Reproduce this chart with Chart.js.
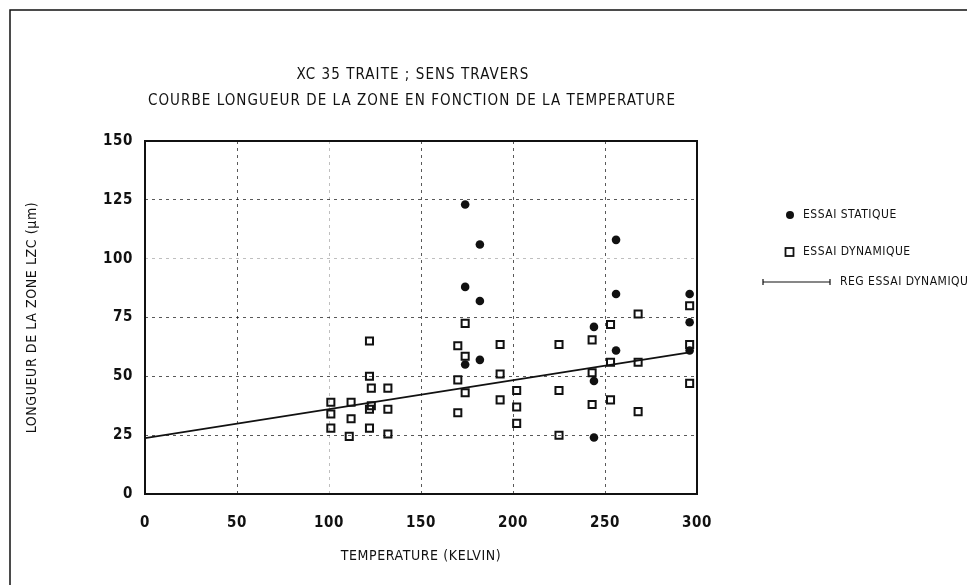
<!DOCTYPE html>
<html>
<head>
<meta charset="utf-8">
<script src="https://cdn.jsdelivr.net/npm/chart.js@4.4.1/dist/chart.umd.min.js"></script>
<style>
	html, body { margin: 0; padding: 0; background: #fff; }
	#cadre { width: 967px; height: 585px; position: relative; }
</style>
</head>
<body>
<div id="cadre"><canvas id="graphe"></canvas></div>
<script>
const titre1 = 'XC 35 TRAITE ; SENS TRAVERS';
const titre2 = 'COURBE LONGUEUR DE LA ZONE EN FONCTION DE LA TEMPERATURE';
const titreX = 'TEMPERATURE (KELVIN)';
const titreY = 'LONGUEUR DE LA ZONE LZC (µm)';
const legende = ['ESSAI STATIQUE', 'ESSAI DYNAMIQUE', 'REG ESSAI DYNAMIQUE'];

// essais statiques (points pleins)
const statiqueX = [174, 182, 174, 182, 182, 174, 244, 244, 244, 256, 256, 256, 296, 296, 296];
const statiqueY = [123, 106, 88, 82, 57, 55, 71, 48, 24, 108, 85, 61, 85, 73, 61];

// essais dynamiques (carres vides)
const dynamiqueX = [
	122, 122, 123, 132, 101, 112, 122, 123, 132, 101, 112, 101, 122, 111, 132,
	174, 170, 174, 193, 225, 243, 193, 170, 174, 193, 202, 225, 202, 170, 202, 225, 243, 243,
	253, 268, 296, 296, 253, 268, 296, 253, 268,
];
const dynamiqueY = [
	65, 50, 45, 45, 39, 39, 36, 37.5, 36, 34, 32, 28, 28, 24.5, 25.5,
	72.5, 63, 58.5, 63.5, 63.5, 65.5, 51, 48.5, 43, 40, 44, 44, 37, 34.5, 30, 25, 51.5, 38,
	72, 76.5, 80, 63.5, 56, 56, 47, 40, 35,
];

// droite de regression
const regX = [0, 296];
const regY = [23.7, 60.2];

const ticksX = [0, 50, 100, 150, 200, 250, 300];
const ticksY = [0, 25, 50, 75, 100, 125, 150];

const police = "'DejaVu Sans Condensed', 'Liberation Sans Narrow', 'DejaVu Sans', sans-serif";
const encre = '#111';

function enPoints(xs, ys) {
	return xs.map((x, i) => ({ x: x, y: ys[i] }));
}

function couleurGrille(c) {
	return c.tick && c.tick.value === 100 ? 'rgba(0,0,0,0.25)' : 'rgba(0,0,0,0.65)';
}

const decor = {
	id: 'decor',
	beforeDraw(chart) {
		chart.ctx.letterSpacing = '0.6px';
	},
	afterDraw(chart) {
		const ctx = chart.ctx;
		const a = chart.chartArea;
		ctx.save();
		ctx.strokeStyle = encre;
		ctx.fillStyle = encre;

		// cadre du trace
		ctx.lineWidth = 2;
		ctx.strokeRect(a.left, a.top, a.right - a.left, a.bottom - a.top);

		// bord de la page
		ctx.lineWidth = 1.5;
		ctx.beginPath();
		ctx.moveTo(10, 585);
		ctx.lineTo(10, 10);
		ctx.lineTo(967, 10);
		ctx.stroke();

		// titres
		ctx.textAlign = 'center';
		ctx.textBaseline = 'middle';
		ctx.font = '15px ' + police;
		ctx.letterSpacing = '1.05px';
		ctx.fillText(titre1, 413, 75);
		ctx.fillText(titre2, 412, 101);

		// legende
		ctx.font = '12px ' + police;
		ctx.letterSpacing = '0.5px';
		ctx.textAlign = 'left';
		ctx.beginPath();
		ctx.arc(790, 215, 4, 0, Math.PI * 2);
		ctx.fill();
		ctx.fillText(legende[0], 803, 215);

		ctx.lineWidth = 1.8;
		ctx.strokeRect(785.5, 248, 8, 8);
		ctx.fillText(legende[1], 803, 252);

		ctx.lineWidth = 1.2;
		ctx.beginPath();
		ctx.moveTo(763, 282);
		ctx.lineTo(830, 282);
		ctx.moveTo(763, 279);
		ctx.lineTo(763, 285);
		ctx.moveTo(830, 279);
		ctx.lineTo(830, 285);
		ctx.stroke();
		ctx.fillText(legende[2], 840, 282);
		ctx.restore();
		ctx.letterSpacing = '0px';
	},
};

document.addEventListener('DOMContentLoaded', () => {
	new Chart(document.getElementById('graphe'), {
		type: 'scatter',
		data: {
			datasets: [
				{
					label: legende[0],
					data: enPoints(statiqueX, statiqueY),
					pointStyle: 'circle',
					pointRadius: 4.3,
					backgroundColor: encre,
					borderColor: encre,
					borderWidth: 0,
				},
				{
					label: legende[1],
					data: enPoints(dynamiqueX, dynamiqueY),
					pointStyle: 'rect',
					pointRadius: 5,
					backgroundColor: 'rgba(0,0,0,0)',
					borderColor: encre,
					borderWidth: 2,
				},
				{
					type: 'line',
					label: legende[2],
					data: enPoints(regX, regY),
					borderColor: encre,
					borderWidth: 1.8,
					pointRadius: 0,
					fill: false,
				},
			],
		},
		options: {
			responsive: true,
			maintainAspectRatio: false,
			animation: false,
			layout: {
				padding: { top: 141, right: 270, bottom: 0, left: 0 },
			},
			plugins: {
				legend: { display: false },
				title: { display: false },
				tooltip: { enabled: false },
			},
			scales: {
				x: {
					type: 'linear',
					min: 0,
					max: 300,
					afterBuildTicks: (s) => { s.ticks = ticksX.map((v) => ({ value: v })); },
					afterFit: (s) => { s.height = 91; },
					border: { display: false, dash: [3, 4] },
					grid: {
						drawTicks: false,
						color: couleurGrille,
						lineWidth: 1,
					},
					ticks: {
						color: encre,
						padding: 20,
						maxRotation: 0,
						font: { family: police, size: 15, weight: 'bold' },
					},
					title: {
						display: true,
						text: titreX,
						color: encre,
						padding: { top: 0, bottom: 20 },
						font: { family: police, size: 14 },
					},
				},
				y: {
					type: 'linear',
					min: 0,
					max: 150,
					afterBuildTicks: (s) => { s.ticks = ticksY.map((v) => ({ value: v })); },
					afterFit: (s) => { s.width = 145; },
					border: { display: false, dash: [3, 4] },
					grid: {
						drawTicks: false,
						color: couleurGrille,
						lineWidth: 1,
					},
					ticks: {
						color: encre,
						padding: 12,
						font: { family: police, size: 15, weight: 'bold' },
					},
					title: {
						display: true,
						text: titreY,
						color: encre,
						padding: { top: 24, bottom: 0 },
						font: { family: police, size: 14 },
					},
				},
			},
		},
		plugins: [decor],
	});
});
</script>
</body>
</html>
